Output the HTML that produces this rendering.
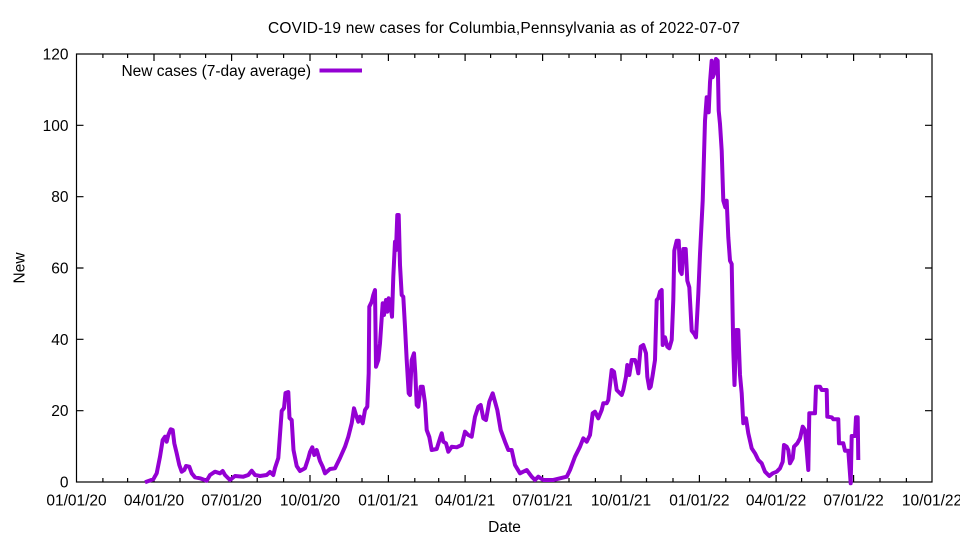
<!DOCTYPE html>
<html><head><meta charset="utf-8"><style>
html,body{margin:0;padding:0;background:#fff;}
svg{display:block;}
text{font-family:"Liberation Sans",Arial,sans-serif;fill:#000;}
</style></head><body>
<svg width="960" height="540" viewBox="0 0 960 540" xmlns="http://www.w3.org/2000/svg">
<rect width="960" height="540" fill="#fff"/>
<text x="504" y="33" font-size="15.5" text-anchor="middle" textLength="472">COVID-19 new cases for Columbia,Pennsylvania as of 2022-07-07</text>
<g stroke="#000" stroke-width="1.2" fill="none">
<rect x="76.5" y="54" width="855.5" height="428"/>
<path d="M76.5 410.7h7M76.5 339.3h7M76.5 268h7M76.5 196.7h7M76.5 125.3h7M932 410.7h-7M932 339.3h-7M932 268h-7M932 196.7h-7M932 125.3h-7"/>
<path d="M154 482v-7M231.6 482v-7M310 482v-7M388.4 482v-7M465.1 482v-7M542.6 482v-7M621 482v-7M699.4 482v-7M776.1 482v-7M853.6 482v-7
M154 54v7M231.6 54v7M310 54v7M388.4 54v7M465.1 54v7M542.6 54v7M621 54v7M699.4 54v7M776.1 54v7M853.6 54v7"/>
<path d="M102.9 482v-4M127.6 482v-4M180 482v-4M205.6 482v-4M257.2 482v-4M283.6 482v-4M336.5 482v-4M362 482v-4M414.8 482v-4M438.7 482v-4M490.6 482v-4M516.2 482v-4M569 482v-4M595.4 482v-4M646.5 482v-4M673 482v-4M725.8 482v-4M749.7 482v-4M801.6 482v-4M827.2 482v-4M880 482v-4M906.4 482v-4
M102.9 54v4M127.6 54v4M180 54v4M205.6 54v4M257.2 54v4M283.6 54v4M336.5 54v4M362 54v4M414.8 54v4M438.7 54v4M490.6 54v4M516.2 54v4M569 54v4M595.4 54v4M646.5 54v4M673 54v4M725.8 54v4M749.7 54v4M801.6 54v4M827.2 54v4M880 54v4M906.4 54v4"/>
</g>
<g font-size="15.5" text-anchor="end">
<text x="68.5" y="487.5">0</text>
<text x="68.5" y="416.2">20</text>
<text x="68.5" y="344.8">40</text>
<text x="68.5" y="273.5">60</text>
<text x="68.5" y="202.2">80</text>
<text x="68.5" y="130.8">100</text>
<text x="68.5" y="59.5">120</text>
</g>
<g font-size="15.5" text-anchor="middle">
<text x="76.5" y="505.5">01/01/20</text>
<text x="154" y="505.5">04/01/20</text>
<text x="231.6" y="505.5">07/01/20</text>
<text x="310" y="505.5">10/01/20</text>
<text x="388.4" y="505.5">01/01/21</text>
<text x="465.1" y="505.5">04/01/21</text>
<text x="542.6" y="505.5">07/01/21</text>
<text x="621" y="505.5">10/01/21</text>
<text x="699.4" y="505.5">01/01/22</text>
<text x="776.1" y="505.5">04/01/22</text>
<text x="853.6" y="505.5">07/01/22</text>
<text x="932" y="505.5">10/01/22</text>
<text x="504.5" y="532">Date</text>
<text x="0" y="0" transform="translate(24.5,268) rotate(-90)">New</text>
</g>
<text x="311" y="76" font-size="15.5" text-anchor="end">New cases (7-day average)</text>
<line x1="319.5" y1="70.5" x2="362" y2="70.5" stroke="#9400d3" stroke-width="4"/>
<polyline fill="none" stroke="#9400d3" stroke-width="4" stroke-linejoin="round" points="
145,482.3 153.3,479.3 156.7,473.3 160,456.7 162.7,440 165,436.7 166.7,441.7 168.3,435 170.7,429.3 172.7,430 174.3,443.3 176.7,453.3 179.3,465 181.7,471.7 184.3,470 186,466 189.3,466.7 191.7,473.3 195,477.3 200,478.3 206.7,480.7 210,475 215,471.7 220,473.3 222.7,471 225,475 230,480 235,476 243.3,476.7 248.3,475 251.7,470.7 255,475 260,476 266.7,475
270,472 273.3,475 275,468 278.3,458 281.7,411 284,408 285.5,393 288.3,392 289.5,418 291.7,420 293.5,450 296.7,466 300,471 305,468.3 308.3,458.3 310,452 312.3,447.3 314.3,455 316.7,450 320,461 322.7,466.7 325,473.3 330,469 335,468.3 340,458 345,446.7 348.3,436.7 351.7,423.3 354,408.3 356,415 358.3,421.7 360,416.7 362.7,423.3 365,410 367.3,406.7 368.7,373.3 369.3,306.7 371.7,301.7 373.3,295 375,290 376,366.7 378.3,360 380,343.3 382.7,303.3 384,315 386,300 387.3,311.7 388.7,298.3 390.7,306.7 392,316.7 393.3,276.7 395,241.7 396,250 397.3,215 398.7,215 400,265 401.7,295 403.3,296.7 405,326.7 406.7,360 408.7,393.3 410,395 411.7,360 414,353.3 415.3,373.3 416.7,405 418.3,406.7 420.7,386.7 422.7,386.7 425,403 426.7,430 429.3,437 431.7,450 436.7,449 440,438.3 441.7,433.3 443.3,441.7 446,443.3 448.3,451.7 451.7,446.7 456.7,447.3 461.7,445 465,431.7 468.3,435 471.7,436.7 475,416.7 478.3,406.7 480.7,405 483.3,418.3 486,420 489.3,401.7 492.7,393.3 495,401.7 497.3,410 500.7,430 505,441.7 508.3,450 511.7,450 515,465 520,473.3 526.7,470 531.7,476.7 535,480 538.3,476.7 543.3,480 553.3,480 560,478.3 566.7,476.7 570,470 575,456.7 580,446.7 583.3,438.3 586.7,441.7 590,435 592.7,413.3 595,411.7 598.3,418.3 601.7,410 603.3,403.3 606.7,403.3 608.3,400 611.7,370 614,371.7 616.7,390 621.7,395 623.3,390 626,376.7 627.3,365 629.3,375 631.7,360 635,360 636.7,365 638.3,373.3 640.7,346.7 643.3,345 646,353.3 647.3,376.7 649.3,388.3 650.7,386.7 652.7,375 655,360 656.7,300 658.3,298.3 660,291.7 661.7,290 662.7,345 665,337.3 667.3,346.7 669.3,348.3 671.7,340 673.3,300 674.3,250.7 676.7,240.7 678.7,240.7 680,270.7 681.7,274 683.3,249 685.7,249 687.3,280.7 689.3,287.3 691.7,330.7 694.3,334 696,337.3 698.3,294 700,254 702.7,200.7 705,120.7 706.7,97.3 708.7,112.3 710,82.3 711.7,60.7 712.7,77.3 714,74 716,59 717.7,60.7 718.7,110.7 720,124 721.7,150.7 723.3,200.7 725.3,207.3 726.7,200.7 728.3,237.3 730,260.7 731.7,264 733.3,350 734.5,385 736.3,330 738.3,330 740,375 741.7,393.3 743.3,423.3 746,418.3 748.3,433.3 751.7,448.3 755,453.3 758.3,460 761.7,463.3 765,471.7 769.3,476 772.7,473.3 776.7,471.7 780,468.3 782.7,461.7 784,445 786.7,446.7 788.3,450 790,463.3 792.7,458.3 794,446.7 797.3,443.3 800,438.3 802.7,426.7 805,430 808.3,470 809.3,413.3 815,413.3 816,386.7 820,386.7 821.7,390 826.7,390 827.3,416.7 831.7,417.3 833.3,419.3 838.3,419.3 839,443.3 843.3,443.3 845,450.7 848.3,450.7 850.7,483.3 851.7,436 855,436 856,417.3 857.7,417.3 858.3,460"/>
</svg>
</body></html>
